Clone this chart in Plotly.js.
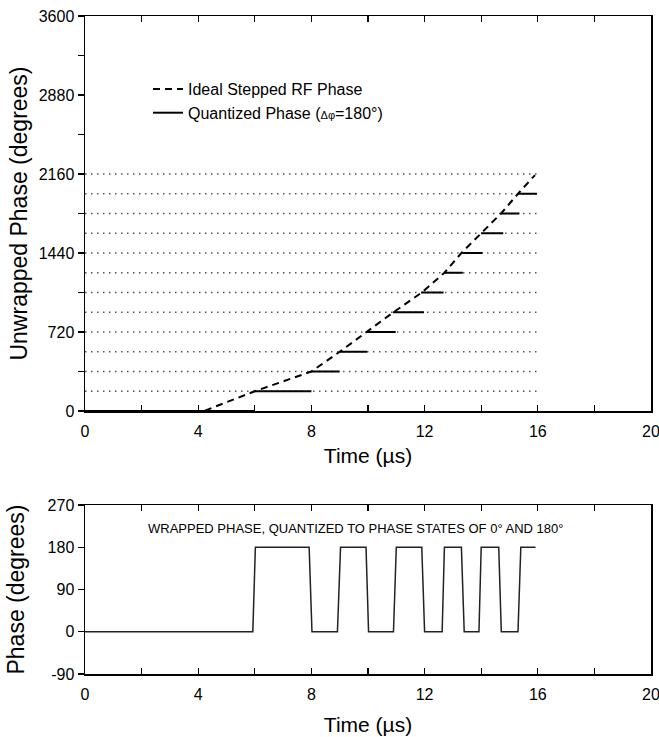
<!DOCTYPE html>
<html>
<head>
<meta charset="utf-8">
<script src="https://cdn.plot.ly/plotly-3.0.1.min.js"></script>
<style>html,body{margin:0;padding:0;background:#fff}#chart{width:659px;height:737px}</style>
</head>
<body>
<div id="chart"></div>
<script>
// ---- Data ----
// Quantization levels (dotted reference lines), degrees
const quantLevels = [180, 360, 540, 720, 900, 1080, 1260, 1440, 1620, 1800, 1980, 2160];
const levelSpan = [0, 16];

// Ideal stepped RF phase (piecewise-linear), time in us, phase in degrees
const idealTime  = [0, 4.2, 6.0, 8.0, 9.0, 9.95, 10.9, 11.9, 12.7, 13.3, 14.0, 14.7, 15.3, 15.9];
const idealPhase = [0, 0, 180, 360, 540, 720, 900, 1080, 1260, 1440, 1620, 1800, 1980, 2150];

// Quantized phase steps (delta phi = 180 deg)
const stepStart = [0, 6.0, 8.0, 9.0, 9.93, 10.88, 11.88, 12.7, 13.33, 14.0, 14.71, 15.3];
const stepEnd   = [6.0, 8.0, 9.0, 9.97, 10.98, 11.98, 12.67, 13.35, 14.05, 14.78, 15.35, 15.97];
const stepLevel = [0, 180, 360, 540, 720, 900, 1080, 1260, 1440, 1620, 1800, 1980];

// Wrapped phase quantized to 0 / 180 deg
const wrapTime  = [0, 5.93, 6.02, 7.92, 8.02, 8.92, 9.03, 9.93, 10.02, 10.9, 11.0, 11.9, 12.0, 12.62, 12.7, 13.3, 13.4, 13.92, 14.0, 14.62, 14.71, 15.3, 15.4, 15.92];
const wrapPhase = [0, 0, 180, 180, 0, 0, 180, 180, 0, 0, 180, 180, 0, 0, 180, 180, 0, 0, 180, 180, 0, 0, 180, 180];

// Tick values and labels
const timeTicks = [0, 4, 8, 12, 16, 20];
const unwrappedTicks = [0, 720, 1440, 2160, 2880, 3600];
const wrappedTicks = [-90, 0, 90, 180, 270];
const wrappedTickText = ['-90', '0', '90', '180', '270'];

// ---- Build traces ----
const lvX = [], lvY = [];
quantLevels.forEach(L => { lvX.push(levelSpan[0], levelSpan[1], null); lvY.push(L, L, null); });
const qX = [], qY = [];
stepLevel.forEach((L, i) => { qX.push(stepStart[i], stepEnd[i], null); qY.push(L, L, null); });

const FONT = "'Liberation Sans', Arial, sans-serif";

const traces = [
  {x: lvX, y: lvY, xaxis: 'x', yaxis: 'y', mode: 'lines', showlegend: false, hoverinfo: 'skip',
   line: {color: '#555', width: 1.4, dash: '1.5px,4.5px'}, connectgaps: false},
  {x: idealTime, y: idealPhase, xaxis: 'x', yaxis: 'y', mode: 'lines', name: 'Ideal Stepped RF Phase',
   line: {color: '#000', width: 2, dash: '7px,5px'}},
  {x: qX, y: qY, xaxis: 'x', yaxis: 'y', mode: 'lines', name: "Quantized Phase (<span style='font-size:11px'>Δφ</span>=180°)",
   line: {color: '#000', width: 2}, connectgaps: false},
  {x: wrapTime, y: wrapPhase, xaxis: 'x2', yaxis: 'y2', mode: 'lines', showlegend: false,
   line: {color: '#222', width: 1.5}}
];

const W = 659, H = 737;
const xDom = [85 / W, 651 / W];
const topDom = [1 - 411 / H, 1 - 16 / H];
const botDom = [1 - 674 / H, 1 - 505 / H];

function xAxis(anchor, dom, standoff) {
  return {
    domain: dom, anchor: anchor, range: [0, 20], tickvals: timeTicks,
    ticks: 'inside', ticklen: 6, tickwidth: 1.2, tickcolor: '#000',
    minor: {dtick: 2, tick0: 0, ticks: 'inside', ticklen: 6, tickwidth: 1.2, tickcolor: '#000'},
    showline: true, linecolor: '#000', linewidth: 1.5, mirror: 'ticks',
    showgrid: false, zeroline: false, ticklabeloverflow: 'allow', ticklabelstandoff: 5,
    tickfont: {family: FONT, size: 16, color: '#000'},
    title: {text: 'Time (µs)', font: {family: FONT, size: 21, color: '#000'}, standoff: standoff},
    automargin: false
  };
}
function yAxis(anchor, dom, range, ticks, ticktext, minorD, titleText, standoff) {
  const a = {
    domain: dom, anchor: anchor, range: range, tickvals: ticks, ticktext: ticktext,
    ticks: 'outside', ticklen: 6, tickwidth: 1.2, tickcolor: '#000',
    showline: true, linecolor: '#000', linewidth: 1.5, mirror: true,
    showgrid: false, zeroline: false, ticklabeloverflow: 'allow',
    tickfont: {family: FONT, size: 16, color: '#000'},
    title: {text: titleText, font: {family: FONT, size: 23, color: '#000'}, standoff: standoff},
    automargin: false
  };
  if (minorD) a.minor = {dtick: minorD, tick0: 0, ticks: 'outside', ticklen: 6, tickwidth: 1.2, tickcolor: '#000'};
  return a;
}
function rightAxis(overlay, anchor, range, ticks, minorD) {
  const a = {
    overlaying: overlay, side: 'right', anchor: anchor, range: range, tickvals: ticks,
    ticks: 'inside', ticklen: 6, tickwidth: 1.2, tickcolor: '#000',
    showticklabels: false, showline: false, showgrid: false, zeroline: false
  };
  if (minorD) a.minor = {dtick: minorD, tick0: 0, ticks: 'inside', ticklen: 6, tickwidth: 1.2, tickcolor: '#000'};
  return a;
}

const layout = {
  width: W, height: H,
  margin: {l: 0, r: 0, t: 0, b: 0},
  paper_bgcolor: '#fff', plot_bgcolor: '#fff',
  font: {family: FONT, color: '#000'},
  xaxis: xAxis('y', xDom, 9),
  yaxis: yAxis('x', topDom, [0, 3600], unwrappedTicks, unwrappedTicks.map(String), 360, 'Unwrapped Phase (degrees)', 4),
  xaxis2: xAxis('y2', xDom, 15),
  yaxis2: yAxis('x2', botDom, [-90, 270], wrappedTicks, wrappedTickText, null, 'Phase (degrees)', 16),
  yaxis3: rightAxis('y', 'x', [0, 3600], unwrappedTicks, 360),
  yaxis4: rightAxis('y2', 'x2', [-90, 270], wrappedTicks, null),
  showlegend: true,
  legend: {
    x: 148 / W, xanchor: 'left', y: 1 - 72 / H, yanchor: 'top',
    bgcolor: 'rgba(0,0,0,0)', borderwidth: 0,
    font: {family: FONT, size: 16, color: '#000'},
    tracegroupgap: 0, itemwidth: 30
  },
  annotations: [{
    xref: 'x2', yref: 'y2', x: 9.57, y: 221, showarrow: false,
    text: 'WRAPPED PHASE, QUANTIZED TO PHASE STATES OF 0° AND 180°',
    font: {family: FONT, size: 13, color: '#000'}
  }]
};

Plotly.newPlot('chart', traces, layout, {staticPlot: true, displayModeBar: false});
</script>
</body>
</html>
